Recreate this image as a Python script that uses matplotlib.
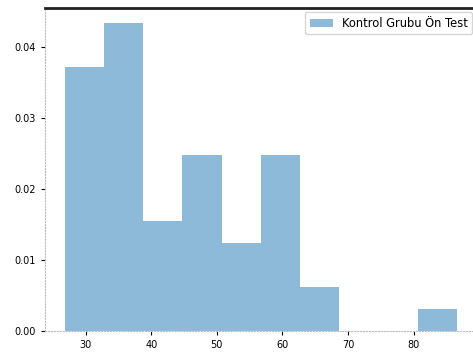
import matplotlib.pyplot as plt
import numpy as np

# histogram (density=True)
bin_edges = np.linspace(26.8, 86.6, 11)
counts = [12, 14, 5, 8, 4, 8, 2, 0, 0, 1]
label = "Kontrol Grubu Ön Test"

fig = plt.figure(figsize=(4.73, 3.52), dpi=100)
ax = fig.add_axes([45/473, 21/352, 431.5/473, 323/352])

ax.hist(bin_edges[:-1], bins=bin_edges, weights=counts, density=True,
        alpha=0.5, label=label)

ax.set_yticks([0.0, 0.01, 0.02, 0.03, 0.04])
ax.set_xticks([30, 40, 50, 60, 70, 80])
ax.tick_params(labelsize=7, length=3, width=0.8)

ax.spines['top'].set_linewidth(2)
ax.spines['top'].set_color('#222222')
for s in ['left', 'bottom']:
    ax.spines[s].set_color('#bbbbbb')
    ax.spines[s].set_linestyle(':')

ax.legend(loc='upper right', fontsize=8.3, borderaxespad=0.35)

fig.savefig('out.png', dpi=100)
